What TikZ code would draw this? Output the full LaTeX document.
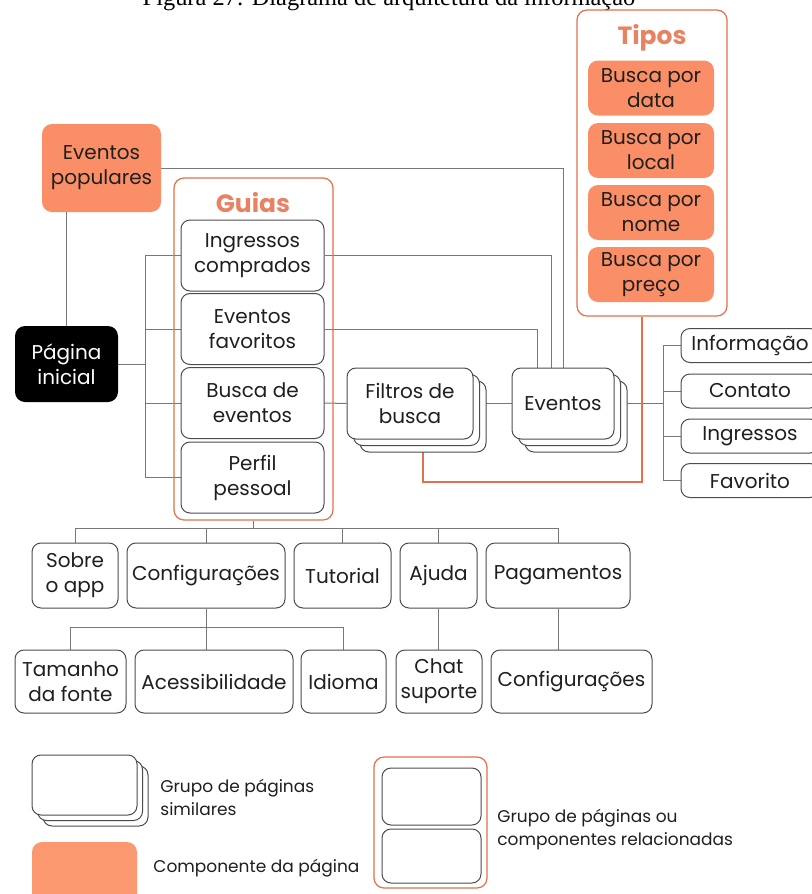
\documentclass[tikz,border=0pt]{standalone}
\usepackage{fontspec}
\setmainfont{Poppins}
\newfontfamily\captionfont{Liberation Serif}
\usetikzlibrary{backgrounds,shadows}
\definecolor{compfill}{RGB}{250,143,103}
\definecolor{legendfill}{RGB}{252,152,112}
\definecolor{grouporange}{RGB}{226,112,74}
\definecolor{titleorange}{RGB}{232,130,98}
\definecolor{linegray}{RGB}{120,120,120}

\begin{document}
\begin{tikzpicture}[x=0.5pt,y=-0.5pt,
  every node/.style={inner sep=0pt, align=center, font=\fontsize{10}{12.5}\selectfont, text=black!88},
  dims/.style 2 args={minimum width=#1*0.5pt, minimum height=#2*0.5pt},
  page/.style={draw=black!70, line width=0.5pt, fill=white, rounded corners=4.5pt},
  stack/.style={page, double copy shadow={shadow xshift=3.25pt, shadow yshift=-3.25pt, draw=black!70, fill=white}},
  comp/.style={fill=compfill, rounded corners=5pt},
  group/.style={draw=grouporange, line width=0.6pt, rounded corners=5pt},
  grouptitle/.style={text=titleorange, font=\fontsize{12.5}{14}\selectfont\bfseries},
  wire/.style={draw=linegray, line width=0.5pt},
  hotwire/.style={draw=grouporange, line width=0.6pt},
  legend/.style={align=left, anchor=west, font=\fontsize{8.5}{11.5}\selectfont}]
\useasboundingbox (0,0) rectangle (812,894);

\node[font=\captionfont\fontsize{12.2}{14}\selectfont, anchor=base, text=black] (caption) at (389,5) {Figura 27: Diagrama de arquitetura da informação};

\node[group, dims={150}{306}] (tipos) at (652,163) {};
\node[grouptitle] (tipostitle) at (652,38) {Tipos};
\node[comp, dims={126}{55}] (data) at (651,88) {Busca por\\data};
\node[comp, dims={126}{55}] (local) at (651,150.5) {Busca por\\local};
\node[comp, dims={126}{55}] (nome) at (651,212.5) {Busca por\\nome};
\node[comp, dims={126}{55}] (preco) at (651,274.5) {Busca por\\preço};

\node[comp, dims={119}{88}] (pop) at (101.5,168) {Eventos\\populares};
\node[fill=black, rounded corners=5pt, text=white, dims={103}{76}] (pag) at (66.5,364) {Página\\inicial};

\node[group, dims={159}{342}] (guias) at (253.5,349) {};
\node[grouptitle] (guiastitle) at (253,203) {Guias};
\node[page, dims={143}{71}] (ing) at (252.5,255.5) {Ingressos\\comprados};
\node[page, dims={143}{71}] (fav) at (252.5,329) {Eventos\\favoritos};
\node[page, dims={143}{71}] (bus) at (252.5,403) {Busca de\\eventos};
\node[page, dims={143}{71}] (per) at (252.5,477.5) {Perfil\\pessoal};

\node[stack, dims={126}{71}] (fil) at (410,403.5) {Filtros de\\busca};
\node[stack, dims={102}{71}] (eve) at (563,403.5) {Eventos};

\node[page, dims={138}{34}] (inf) at (750,345.5) {Informação};
\node[page, dims={138}{34}] (con) at (750,391) {Contato};
\node[page, dims={138}{34}] (ingr) at (750,436) {Ingressos};
\node[page, dims={138}{34}] (fvr) at (750,480.5) {Favorito};

\node[page, dims={86}{65}] (sob) at (75,575.5) {Sobre\\o app};
\node[page, dims={158}{65}] (cfg) at (206,575.5) {Configurações};
\node[page, dims={97}{65}] (tut) at (342.5,575.5) {Tutorial};
\node[page, dims={77}{65}] (aju) at (438.5,575.5) {Ajuda};
\node[page, dims={144}{65}] (pgt) at (558,575.5) {Pagamentos};

\node[page, dims={111}{63}] (tam) at (70.5,681.5) {Tamanho\\da fonte};
\node[page, dims={158}{63}] (acc) at (214,681.5) {Acessibilidade};
\node[page, dims={85}{63}] (idi) at (343.5,681.5) {Idioma};
\node[page, dims={86}{63}] (cha) at (439,681.5) {Chat\\suporte};
\node[page, dims={161}{63}] (cf2) at (571.5,681.5) {Configurações};

\node[page, dims={105}{60}, double copy shadow={shadow xshift=2.75pt, shadow yshift=-2.75pt, draw=black!70, fill=white}] (legstack) at (84.5,785) {};
\node[legend] (legstacktxt) at (160,797) {Grupo de páginas\\similares};
\node[comp, fill=legendfill, dims={105}{63}] (legcomp) at (84.5,873.5) {};
\node[legend] (legcomptxt) at (153,868) {Componente da página};
\node[group, dims={113}{131}] (leggroup) at (430.5,822.5) {};
\node[page, dims={99}{57}] (legone) at (431.5,796.5) {};
\node[page, dims={99}{54}] (legtwo) at (431.5,856) {};
\node[legend] (leggrouptxt) at (497,830) {Grupo de páginas ou\\componentes relacionadas};

\begin{scope}[on background layer]
\draw[wire] (pag.north) -- (pag.north |- pop.south);
\draw[wire] (pop.east) -| (eve.north);
\draw[wire] (ing.east) -| ([xshift=-6pt]eve.north);
\draw[wire] (fav.east) -| ([xshift=-13pt]eve.north);
\coordinate (trunk) at (145,364);
\draw[wire] (pag.east) -- (trunk);
\draw[wire] (trunk |- ing.west) -- (trunk |- per.west);
\foreach \n in {ing,fav,bus,per} \draw[wire] (trunk |- \n.west) -- (\n.west);
\draw[wire] (bus.east) -- (fil.west);
\draw[wire] (fil.east) -- (eve.west);
\coordinate (rtrunk) at (663,407);
\draw[wire] (eve.east) -- (rtrunk |- eve.east);
\draw[wire] (rtrunk |- inf.west) -- (rtrunk |- fvr.west);
\foreach \n in {inf,con,ingr,fvr} \draw[wire] (rtrunk |- \n.west) -- (\n.west);
\coordinate (lowrun) at (0,482);
\coordinate (tipfoot) at ([xshift=-5pt]tipos.south);
\coordinate (filfoot) at ([xshift=6.5pt]fil.south);
\draw[hotwire] (tipfoot) -- (tipfoot |- lowrun) -| (filfoot);
\coordinate (bar1) at (0,528);
\draw[wire] (guias.south) -- (guias.south |- bar1);
\draw[wire] (sob.north |- bar1) -- (pgt.north |- bar1);
\foreach \n in {sob,cfg,tut,aju,pgt} \draw[wire] (\n.north) -- (\n.north |- bar1);
\coordinate (bar2) at (0,627);
\draw[wire] (cfg.south) -- (cfg.south |- acc.north);
\draw[wire] (tam.north) -- (tam.north |- bar2) -- (idi.north |- bar2) -- (idi.north);
\draw[wire] (aju.south) -- (aju.south |- cha.north);
\draw[wire] (pgt.south) -- (pgt.south |- cf2.north);
\end{scope}
\end{tikzpicture}
\end{document}
